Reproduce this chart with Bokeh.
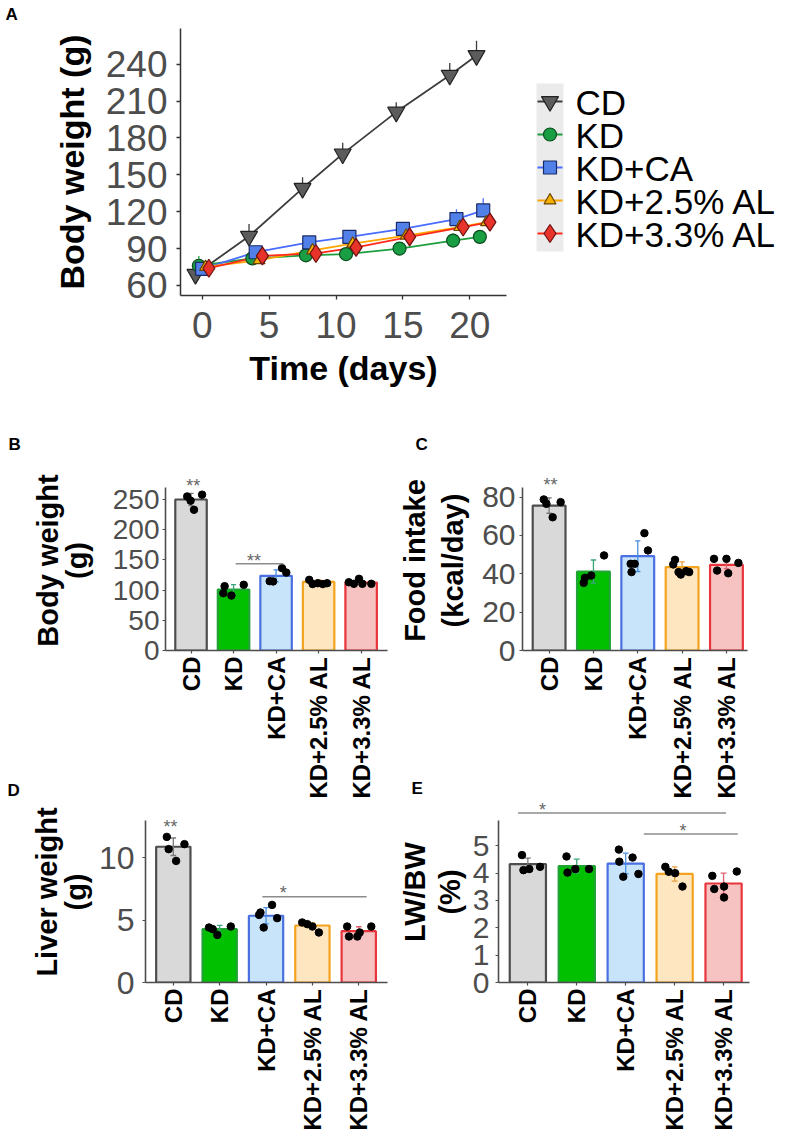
import math
from bokeh.plotting import figure
from bokeh.layouts import column, row
from bokeh.models import Range1d, FixedTicker, Title, ColumnDataSource
from bokeh.transform import dodge
from bokeh.embed import file_html
from bokeh.resources import INLINE
from bokeh.core.properties import value

FONT = "Liberation Sans"

# ---------------- data ----------------
groups = ["CD", "KD", "KD+CA", "KD+2.5% AL", "KD+3.3% AL"]

# Panel A: body weight over time
days = [0, 4, 8, 11, 15, 19, 21]
cd_bw = [69, 100, 139, 167, 201, 231, 247]
cd_bw_sd = [4, 10, 9, 9, 8, 10, 12]
kd_bw = [76, 82, 84.5, 85.5, 90, 96.5, 99.5]
kd_bw_sd = [8, 3, 3, 3, 3, 6, 5]
ca_bw = [73.5, 87, 95, 99.5, 106, 114, 121]
ca_bw_sd = [3, 3, 3, 3, 4, 8, 10]
al25_bw = [75, 80.5, 88.5, 94, 100.5, 107.5, 111.5]
al25_bw_sd = [3, 3, 3, 3, 3, 3, 3]
al33_bw = [74, 84, 86, 91, 99.5, 107.5, 111.5]
al33_bw_sd = [3, 3, 3, 3, 3, 3, 3]
a_xticks = [0, 5, 10, 15, 20]
a_yticks = [60, 90, 120, 150, 180, 210, 240]

# Panel B: final body weight (g)
b_mean = [250, 101, 123.6, 113.7, 112.6]
b_sd = [10, 8, 10, 3, 3]
b_pts = [[255, 248, 258, 233], [106.5, 94.9, 91, 108.8], [114.8, 114.3, 136.3, 129],
         [117, 110, 111.4, 110, 111.4], [113, 110.4, 118.7, 110.4, 110.4]]
b_jit = [[-0.09, -0.01, 0.26, 0.07], [-0.21, -0.24, -0.05, 0.24], [-0.15, -0.07, 0.14, 0.24],
         [-0.22, -0.14, -0.02, 0.10, 0.20], [-0.29, -0.17, -0.05, 0.03, 0.24]]
b_yticks = [0, 50, 100, 150, 200, 250]

# Panel C: food intake (kcal/day)
c_mean = [75.6, 41.2, 49.2, 43.5, 44.7]
c_sd = [4, 6, 8, 2.7, 2]
c_pts = [[78.8, 76.5, 69.5, 77.4], [35.3, 37.9, 39.1, 49.6], [45.2, 45.2, 40.9, 61.2, 52.2],
         [47.3, 44.9, 40.9, 39.6, 41.4, 40.9], [47.8, 41.7, 47.8, 40.3, 45.7]]
c_jit = [[-0.12, -0.06, 0.08, 0.26], [-0.22, -0.19, -0.05, 0.24], [-0.16, -0.07, -0.14, 0.15, 0.23],
         [-0.16, -0.20, -0.08, -0.03, 0.09, 0.16], [-0.28, -0.21, 0.0, 0.04, 0.27]]
c_yticks = [0, 20, 40, 60, 80]

# Panel D: liver weight (g)
d_mean = [10.86, 4.27, 5.34, 4.56, 4.11]
d_sd = [0.7, 0.3, 0.65, 0.2, 0.35]
d_pts = [[11.65, 10.67, 9.73, 11.07], [4.4, 4.27, 3.81, 4.48], [5.41, 5.6, 4.4, 6.21, 5.15],
         [4.8, 4.67, 4.48, 4.0], [4.48, 3.68, 3.68, 4.0, 4.48]]
d_jit = [[-0.14, -0.10, 0.06, 0.24], [-0.23, -0.15, -0.05, 0.24], [-0.15, -0.12, -0.05, 0.13, 0.24],
         [-0.22, -0.11, 0.0, 0.14], [-0.25, -0.21, -0.03, 0.02, 0.27]]
d_yticks = [0, 5, 10]

# Panel E: LW/BW (%)
e_mean = [4.33, 4.26, 4.35, 3.97, 3.62]
e_sd = [0.22, 0.25, 0.38, 0.26, 0.38]
e_pts = [[4.66, 4.11, 4.15, 4.23], [4.61, 4.02, 4.15, 4.15], [4.86, 4.42, 3.87, 4.57, 3.97],
         [4.23, 4.05, 4.0, 3.51], [3.9, 3.42, 3.51, 3.11, 4.06]]
e_jit = [[-0.12, -0.09, 0.03, 0.25], [-0.21, -0.19, -0.03, 0.25], [-0.14, -0.13, -0.05, 0.14, 0.26],
         [-0.19, -0.12, 0.01, 0.16], [-0.23, -0.19, 0.01, 0.01, 0.27]]
e_yticks = [0, 1, 2, 3, 4, 5]

# significance annotations: (x_start, x_end, y) lines and (x, y, text) stars
b_sig_lines = [(2.05, 3.17, 143.5)]
b_sig_text = [(1.05, 278.6, "**"), (2.48, 154.5, "**")]
c_sig_lines = []
c_sig_text = [(1.03, 88.3, "**")]
d_sig_lines = [(2.92, 5.17, 6.86)]
d_sig_text = [(0.94, 12.8, "**"), (3.37, 7.5, "*")]
e_sig_lines = [(0.80, 5.05, 6.20), (3.37, 5.29, 5.43)]
e_sig_text = [(1.30, 6.47, "*"), (4.17, 5.67, "*")]

# ---------------- styles ----------------
line_cols = ["#3d3d3d", "#1f9e3e", "#4a6cff", "#ffa500", "#ff2a1a"]
mk_fill = ["#5c5c5c", "#1a9e44", "#5080e8", "#f5b000", "#e8332a"]
mk_line = ["#222222", "#0b4d1e", "#1a2a66", "#6a4500", "#6a1010"]
markers = ["inverted_triangle", "circle", "square", "triangle", "diamond"]
mk_size = [17, 13, 13, 12, 18]
dodges = [-0.5, -0.25, 0.0, 0.25, 0.5]

bar_fill = ["#d9d9d9", "#00c000", "#c8e4fa", "#fde6c0", "#f6c2c2"]
bar_edge = ["#4d4d4d", "#21a336", "#4a6fe0", "#f4a31f", "#e8343b"]
err_col = ["#7a7a7a", "#3aa37a", "#4a8ee0", "#e8a040", "#e06070"]

AX_COL = "#4d4d4d"


def style_common(p, transparent=False):
    p.xgrid.visible = False
    p.ygrid.visible = False
    p.outline_line_color = None
    if transparent:
        p.background_fill_alpha = 0
        p.border_fill_alpha = 0
    else:
        p.background_fill_color = "white"
        p.border_fill_color = "white"


def add_letter(p, text, offset, standoff):
    p.add_layout(Title(text=text, align="left", offset=offset, standoff=standoff,
                       text_font=FONT, text_font_style="bold", text_font_size="17px",
                       text_color="black"), "above")


# ---------------- Panel A ----------------
pa = figure(width=520, height=422, x_range=Range1d(-1.62, 22.74), y_range=Range1d(51.8, 269),
            min_border_left=180, min_border_right=14, min_border_top=40, min_border_bottom=115,
            output_backend="svg", toolbar_location=None)
style_common(pa)

series = [cd_bw, kd_bw, ca_bw, al25_bw, al33_bw]
series_sd = [cd_bw_sd, kd_bw_sd, ca_bw_sd, al25_bw_sd, al33_bw_sd]
srcs = []
for i, g in enumerate(groups):
    src = ColumnDataSource(dict(x=days, y=series[i],
                                yt=[m + s for m, s in zip(series[i], series_sd[i])]))
    dx = dodge("x", dodges[i], range=pa.x_range)
    pa.segment(x0=dx, y0="y", x1=dx, y1="yt", source=src, line_color=line_cols[i], line_width=1.3)
    pa.line(x=dx, y="y", source=src, line_color=line_cols[i], line_width=1.8)
    srcs.append((src, dx))
for i, g in enumerate(groups):
    src, dx = srcs[i]
    pa.scatter(x=dx, y="y", source=src, marker=markers[i], size=mk_size[i],
               fill_color=mk_fill[i], line_color=mk_line[i], line_width=1.2)

pa.xaxis.ticker = FixedTicker(ticks=a_xticks)
pa.yaxis.ticker = FixedTicker(ticks=a_yticks)
for ax in (pa.xaxis[0], pa.yaxis[0]):
    ax.axis_line_color = "#333333"
    ax.axis_line_width = 1.5
    ax.major_tick_line_color = "#333333"
    ax.major_tick_line_width = 1.3
    ax.major_tick_out = 4
    ax.major_tick_in = 0
    ax.minor_tick_line_color = None
    ax.major_label_text_font = FONT
    ax.major_label_text_font_size = "37px"
    ax.major_label_text_color = AX_COL
    ax.axis_label_text_font = FONT
    ax.axis_label_text_font_style = "bold"
    ax.axis_label_text_font_size = "34px"
    ax.axis_label_text_color = "black"
pa.xaxis.axis_label = "Time (days)"
pa.yaxis.axis_label = "Body weight (g)"
pa.xaxis.major_label_standoff = 12
pa.yaxis.major_label_standoff = 9
pa.xaxis.axis_label_standoff = 8
pa.yaxis.axis_label_standoff = 12
add_letter(pa, "A", -175, 10)

# legend panel for A: its frame is aligned with panel A's frame (1 unit = 1 px)
pleg = figure(width=267, height=422, x_range=Range1d(0, 267), y_range=Range1d(0, 267),
              x_axis_type=None, y_axis_type=None, min_border_left=0, min_border_right=0,
              min_border_top=40, min_border_bottom=115,
              output_backend="svg", toolbar_location=None)
style_common(pleg)
KEY_L, KEY_R, KEY_TOP, KEY_STEP = 16, 43, 194, 33
key_y = [KEY_TOP - KEY_STEP * i for i in range(len(groups))]
pleg.quad(left=[KEY_L], right=[KEY_R], bottom=[key_y[-1] - 18], top=[key_y[0] + 18],
          fill_color="#ebebeb", line_color=None)
key_x = (KEY_L + KEY_R) / 2
for i, g in enumerate(groups):
    pleg.segment(x0=[KEY_L + 1], y0=[key_y[i]], x1=[KEY_R - 1], y1=[key_y[i]],
                 line_color=line_cols[i], line_width=1.8)
    pleg.scatter(x=[key_x], y=[key_y[i]], marker=markers[i], size=mk_size[i],
                 fill_color=mk_fill[i], line_color=mk_line[i], line_width=1.2)
pleg.text(x=[KEY_R + 12] * len(groups), y=key_y, text=groups, text_font=value(FONT),
          text_font_size="35px", text_baseline="middle", text_align="left",
          text_color="black", y_offset=1)


# ---------------- bar panels ----------------
def bar_panel(w, h, left, right, top, bottom, xend, yend, ybound, means, sds, pts, jit,
              yticks, ylabel, tick_size, y_std, x_std, lab_std, lab_lh, sig_lines, sig_text,
              transparent=False):
    p = figure(width=w, height=h, x_range=Range1d(0.4, xend), y_range=Range1d(0, yend),
               min_border_left=left, min_border_right=right, min_border_top=top,
               min_border_bottom=bottom, output_backend="svg", toolbar_location=None)
    style_common(p, transparent)
    xs = [1, 2, 3, 4, 5]
    p.vbar(x=xs, top=means, width=0.74, bottom=0, fill_color=bar_fill, line_color=bar_edge,
           line_width=2.2)
    lo = [m - s for m, s in zip(means, sds)]
    hi = [m + s for m, s in zip(means, sds)]
    p.segment(x0=xs, y0=lo, x1=xs, y1=hi, line_color=err_col, line_width=1.3)
    p.segment(x0=[x - 0.06 for x in xs], y0=hi, x1=[x + 0.06 for x in xs], y1=hi,
              line_color=err_col, line_width=1.3)
    p.segment(x0=[x - 0.06 for x in xs], y0=lo, x1=[x + 0.06 for x in xs], y1=lo,
              line_color=err_col, line_width=1.3)
    px, py = [], []
    for i in range(5):
        for v, j in zip(pts[i], jit[i]):
            px.append(xs[i] + j)
            py.append(v)
    p.scatter(x=px, y=py, size=7.5, fill_color="black", line_color="black")
    for (x0, x1, y) in sig_lines:
        p.segment(x0=[x0], y0=[y], x1=[x1], y1=[y], line_color="#8c8c8c", line_width=1.5)
    if sig_text:
        p.text(x=[t[0] for t in sig_text], y=[t[1] for t in sig_text],
               text=[t[2] for t in sig_text], text_font=value(FONT), text_font_size="18px",
               text_align="center", text_baseline="middle", text_color="#666666", y_offset=4)

    p.xaxis.ticker = FixedTicker(ticks=xs)
    p.xaxis.major_label_overrides = {x: g for x, g in zip(xs, groups)}
    p.yaxis.ticker = FixedTicker(ticks=yticks)
    p.yaxis.bounds = (0, ybound)
    for ax in (p.xaxis[0], p.yaxis[0]):
        ax.axis_line_color = AX_COL
        ax.axis_line_width = 1.6
        ax.major_tick_line_color = AX_COL
        ax.major_tick_line_width = 1.2
        ax.major_tick_out = 3
        ax.major_tick_in = 0
        ax.minor_tick_line_color = None
        ax.major_label_text_font = FONT
    p.xaxis.major_label_orientation = math.pi / 2
    p.xaxis.major_label_text_font_style = "bold"
    p.xaxis.major_label_text_font_size = "24px"
    p.xaxis.major_label_text_color = "black"
    p.xaxis.major_label_standoff = x_std
    p.yaxis.major_label_text_font_size = tick_size
    p.yaxis.major_label_text_color = AX_COL
    p.yaxis.major_label_standoff = y_std
    p.yaxis.axis_label = ylabel
    p.yaxis.axis_label_text_font = FONT
    p.yaxis.axis_label_text_font_style = "bold"
    p.yaxis.axis_label_text_font_size = "29px"
    p.yaxis.axis_label_text_color = "black"
    p.yaxis.axis_label_text_line_height = lab_lh
    p.yaxis.axis_label_standoff = lab_std
    return p


pb = bar_panel(395, 391, 165, 8, 60, 151, 5.62, 298.0, 270, b_mean, b_sd, b_pts, b_jit,
               b_yticks, "Body weight\n(g)", "28px", 3, 3, 17, 0.9, b_sig_lines, b_sig_text)
pc = bar_panel(392, 391, 117, 40, 60, 151, 5.475, 93.9, 85, c_mean, c_sd, c_pts, c_jit,
               c_yticks, "Food intake\n(kcal/day)", "30px", 4, 3, 10, 1.2, c_sig_lines,
               c_sig_text)
# row 3: both frames span page y 801..982
pd_ = bar_panel(395, 379, 145, 8, 41, 157, 5.62, 14.48, 12.96, d_mean, d_sd, d_pts, d_jit,
                d_yticks, "Liver weight\n(g)", "32px", 8, 3, 4, 0.9, d_sig_lines, d_sig_text,
                transparent=True)
pe = bar_panel(392, 379, 97, 38, 41, 157, 5.53, 6.62, 5.93, e_mean, e_sd, e_pts, e_jit,
               e_yticks, "LW/BW\n(%)", "30px", 6, 3, 4, 1.1, e_sig_lines, e_sig_text,
               transparent=True)

add_letter(pb, "B", -157, 33)
add_letter(pc, "C", -107, 33)
add_letter(pd_, "D", -138, 4)
add_letter(pe, "E", -87, 8)

row1 = row(pa, pleg, margin=(-12, 0, 0, 0))
row3 = row(pd_, pe, margin=(-41, 0, 0, 0))
layout = column(row1, row(pb, pc), row3)
open("out.html", "w").write(file_html(layout, INLINE))
